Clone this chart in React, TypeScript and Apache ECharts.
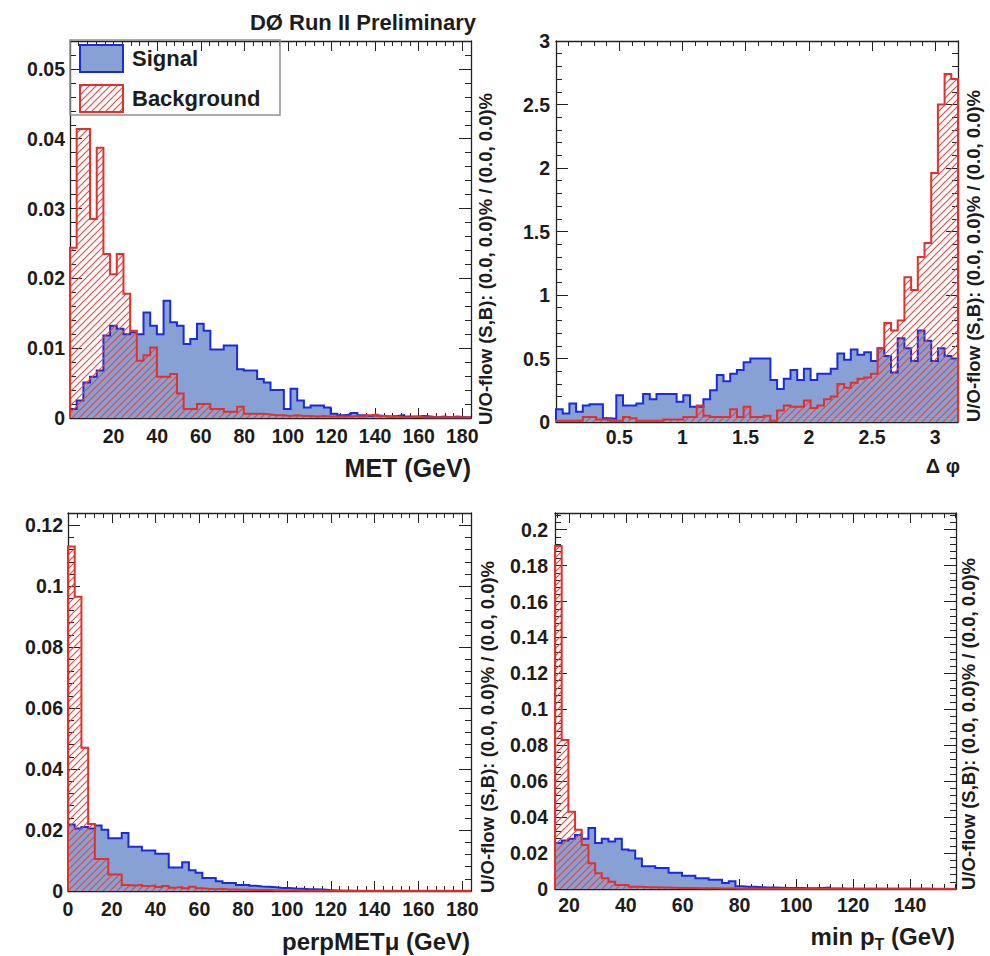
import React, { useEffect, useRef } from "react";
import * as echarts from "echarts";

// ---------- data (60 bins per histogram) ----------
const metRange = [0, 184];
const metSignal = [
  0.0013, 0.0025, 0.0051, 0.0059, 0.0068, 0.0118, 0.0132, 0.0128, 0.012, 0.0123,
  0.012, 0.0151, 0.0132, 0.012, 0.0168, 0.0137, 0.0132, 0.0106, 0.0113, 0.0135,
  0.0125, 0.0098, 0.0098, 0.0104, 0.0104, 0.007, 0.0068, 0.0068, 0.0056, 0.0051,
  0.004, 0.004, 0.0013, 0.0042, 0.0025, 0.0015, 0.0018, 0.0018, 0.0015, 0.0006,
  0.0004, 0.0005, 0.0007, 0.0004, 0.0003, 0.0004, 0.0003, 0.0002, 0.0003, 0.0004,
  0.0002, 0.0002, 0.0003, 0.0002, 0.0001, 0.0002, 0.0001, 0.0002, 0.0001, 0.0001,
];
const metBackground = [
  0.0244, 0.0414, 0.0414, 0.0285, 0.0387, 0.0235, 0.0206, 0.0235, 0.0178, 0.0125,
  0.0082, 0.009, 0.0101, 0.0059, 0.0059, 0.0063, 0.0035, 0.0013, 0.0013, 0.002,
  0.002, 0.0013, 0.0013, 0.0009, 0.0009, 0.0016, 0.0006, 0.0006, 0.0006, 0.0005,
  0.0004, 0.0004, 0.0003, 0.0004, 0.0003, 0.0003, 0.0002, 0.0003, 0.0002, 0.0002,
  0.0002, 0.0002, 0.0003, 0.0002, 0.0004, 0.0005, 0.0003, 0.0002, 0.0002, 0.0001,
  0.0001, 0.0002, 0.0001, 0.0001, 0.0001, 0.0001, 0.0001, 0.0001, 0.0001, 0.0001,
];

const dphiRange = [0, 3.18];
const dphiSignal = [
  0.1, 0.066, 0.145, 0.08, 0.13, 0.14, 0.14, 0.03, 0.026, 0.21,
  0.13, 0.13, 0.145, 0.22, 0.18, 0.22, 0.22, 0.22, 0.16, 0.21,
  0.12, 0.12, 0.18, 0.25, 0.37, 0.32, 0.38, 0.41, 0.47, 0.5,
  0.5, 0.5, 0.33, 0.26, 0.34, 0.41, 0.33, 0.42, 0.33, 0.38,
  0.38, 0.42, 0.54, 0.49, 0.57, 0.53, 0.55, 0.48, 0.58, 0.52,
  0.39, 0.66, 0.58, 0.48, 0.72, 0.64, 0.48, 0.58, 0.52, 0.5,
];
const dphiBackground = [
  0.01, 0.01, 0.01, 0.01, 0.04, 0.04, 0.02, 0.02, 0.01, 0.01,
  0.04, 0.03, 0.01, 0.01, 0.01, 0.01, 0.02, 0.02, 0.02, 0.04,
  0.04, 0.13, 0.05, 0.04, 0.04, 0.04, 0.1, 0.04, 0.12, 0.04,
  0.04, 0.05, 0.01, 0.09, 0.13, 0.12, 0.12, 0.17, 0.11, 0.13,
  0.18, 0.2, 0.3, 0.27, 0.31, 0.34, 0.35, 0.38, 0.58, 0.78,
  0.72, 0.8, 1.14, 1.04, 1.3, 1.41, 1.96, 2.5, 2.74, 2.7,
];

const perpRange = [0, 184];
const perpSignal = [
  0.0218, 0.0205, 0.021, 0.0205, 0.0215, 0.0201, 0.0173, 0.0173, 0.019, 0.0145,
  0.0145, 0.0133, 0.0133, 0.0122, 0.0122, 0.0077, 0.0077, 0.0094, 0.0068, 0.006,
  0.0043, 0.0043, 0.0032, 0.0026, 0.0026, 0.002, 0.002, 0.0017, 0.0015, 0.0014,
  0.0012, 0.001, 0.001, 0.0008, 0.0007, 0.0006, 0.0006, 0.0005, 0.0003, 0.0002,
  0.0001, 0.0001, 0, 0, 0, 0, 0, 0, 0, 0,
  0, 0, 0, 0, 0, 0, 0, 0, 0, 0,
];
const perpBackground = [
  0.113, 0.0965, 0.047, 0.022, 0.0105, 0.0105, 0.0054, 0.0054, 0.002, 0.0018,
  0.002, 0.0016, 0.0018, 0.0013, 0.0016, 0.0011, 0.0013, 0.0009, 0.0014, 0.0009,
  0.0007, 0.0006, 0.0007, 0.0005, 0.0005, 0.0004, 0.0004, 0.0003, 0.0003, 0.0003,
  0.0002, 0.0002, 0.0002, 0.0002, 0.0001, 0.0001, 0.0001, 0.0001, 0.0001, 0.0001,
  0.0001, 0.0001, 0.0001, 0.0001, 0.0001, 0.0001, 0.0001, 0.0001, 0.0001, 0.0001,
  0.0001, 0.0001, 0.0001, 0.0001, 0.0001, 0.0001, 0.0001, 0.0001, 0.0001, 0.0001,
];

const minptRange = [15.07, 156.2];
const minptSignal = [
  0.0256, 0.027, 0.028, 0.03, 0.028, 0.034, 0.0256, 0.028, 0.0265, 0.028,
  0.022, 0.0215, 0.017, 0.0126, 0.0126, 0.0117, 0.0117, 0.009, 0.009, 0.0074,
  0.0074, 0.006, 0.006, 0.0052, 0.0052, 0.0033, 0.0043, 0.0015, 0.0012, 0.0012,
  0.001, 0.0008, 0.0008, 0.0007, 0.0006, 0.0006, 0.0005, 0.0004, 0.0004, 0.0006,
  0.0008, 0.0003, 0.0003, 0.0002, 0.0002, 0.0002, 0.0001, 0.0001, 0.0001, 0.0001,
  0.0001, 0.0001, 0.0001, 0.0001, 0.0001, 0.0001, 0, 0, 0, 0,
];
const minptBackground = [
  0.191, 0.083, 0.043, 0.033, 0.0245, 0.0143, 0.0087, 0.006, 0.004, 0.0022,
  0.0022, 0.0013, 0.0013, 0.001, 0.001, 0.0009, 0.0008, 0.0007, 0.0006, 0.0005,
  0.0005, 0.0004, 0.0004, 0.0004, 0.0003, 0.0003, 0.0003, 0.0002, 0.0002, 0.0002,
  0.0002, 0.0002, 0.0002, 0.0001, 0.0001, 0.0001, 0.0001, 0.0001, 0.0001, 0.0001,
  0.0001, 0.0001, 0.0001, 0.0001, 0.0001, 0.0001, 0.0001, 0.0001, 0.0001, 0.0001,
  0.0001, 0.0001, 0.0001, 0.0001, 0.0001, 0.0001, 0.0001, 0.0001, 0.0001, 0.0001,
];

const titleText = "DØ Run II Preliminary";
const overflowText = "U/O-flow (S,B): (0.0, 0.0)% / (0.0, 0.0)%";
const legendLabels = ["Signal", "Background"];

// ---------- styles ----------
const FONT = '"Liberation Sans", Arial, Helvetica, sans-serif';
const TEXT = "#1c1c1c";
const AXIS = "#222222";
const BLUE = "#1a2cd8";
const BLUE_FILL = "#87a1d4";
const RED = "#e2302a";

function stepPoints(values: number[], range: number[]) {
  const [lo, hi] = range;
  const n = values.length;
  const w = (hi - lo) / n;
  const pts: number[][] = [[lo, 0]];
  values.forEach((v, i) => {
    pts.push([lo + i * w, v]);
    pts.push([lo + (i + 1) * w, v]);
  });
  pts.push([hi, 0]);
  return pts;
}

type AxisCfg = {
  min: number;
  max: number;
  interval?: number;
  step?: number;
  margin: number;
  showMin: boolean;
  showMax: boolean;
};

function tickOpts(len: number, minorLen: number) {
  return {
    axisLine: { show: true, onZero: false, lineStyle: { color: AXIS, width: 1.3 } },
    axisTick: { show: true, inside: true, length: len, lineStyle: { color: AXIS, width: 1 } },
    minorTick: { show: true, splitNumber: 5, length: minorLen, lineStyle: { color: AXIS, width: 1 } },
    splitLine: { show: false },
    minorSplitLine: { show: false },
  };
}

function scaleOpts(c: AxisCfg) {
  const o: any = { type: "value", min: c.min, max: c.max, scale: true };
  if (c.interval) o.interval = c.interval;
  else {
    o.minInterval = c.step;
    o.maxInterval = c.step;
  }
  return o;
}

function labelOpts(c: AxisCfg) {
  return {
    show: true,
    margin: c.margin,
    fontSize: 19.5,
    fontWeight: "bold",
    fontFamily: FONT,
    color: TEXT,
    showMinLabel: c.showMin,
    showMaxLabel: c.showMax,
  };
}

const panels = [
  {
    grid: { left: 70, top: 41, width: 401, height: 377 },
    x: { min: 0, max: 184, interval: 20, margin: 8, showMin: false, showMax: false },
    y: { min: 0, max: 0.054, interval: 0.01, margin: 5, showMin: true, showMax: false },
    range: metRange,
    sig: metSignal,
    bkg: metBackground,
  },
  {
    grid: { left: 556, top: 41, width: 402, height: 381 },
    x: { min: 0, max: 3.18, interval: 0.5, margin: 5, showMin: false, showMax: false },
    y: { min: 0, max: 3, interval: 0.5, margin: 6, showMin: true, showMax: true },
    range: dphiRange,
    sig: dphiSignal,
    bkg: dphiBackground,
  },
  {
    grid: { left: 68, top: 513, width: 403, height: 378 },
    x: { min: 0, max: 184, interval: 20, margin: 8, showMin: true, showMax: false },
    y: { min: 0, max: 0.124, interval: 0.02, margin: 5, showMin: true, showMax: false },
    range: perpRange,
    sig: perpSignal,
    bkg: perpBackground,
  },
  {
    grid: { left: 555, top: 513, width: 401, height: 376 },
    x: { min: 15.07, max: 156.2, step: 20, margin: 6, showMin: false, showMax: false },
    y: { min: 0, max: 0.2093, interval: 0.02, margin: 7, showMin: true, showMax: false },
    range: minptRange,
    sig: minptSignal,
    bkg: minptBackground,
  },
];

function makeHatch() {
  const s = 7;
  const c = document.createElement("canvas");
  c.width = s;
  c.height = s;
  const ctx = c.getContext("2d");
  if (ctx) {
    ctx.strokeStyle = "#e4463c";
    ctx.lineWidth = 1.1;
    for (const k of [-1, 0, 1]) {
      ctx.beginPath();
      ctx.moveTo(k * s - 1, s + 1);
      ctx.lineTo(k * s + s + 1, -1);
      ctx.stroke();
    }
  }
  return { image: c.toDataURL(), repeat: "repeat", imageWidth: s, imageHeight: s } as any;
}

function txt(x: number, y: number, text: string, size: number, align: string, vAlign = "middle", extra: any = {}) {
  return {
    type: "text",
    x,
    y,
    silent: true,
    ...extra,
    style: {
      text,
      fontSize: size,
      fontWeight: "bold",
      fontFamily: FONT,
      fill: TEXT,
      align,
      textAlign: align,
      verticalAlign: vAlign,
      textVerticalAlign: vAlign,
    },
  };
}

export default function App() {
  const ref = useRef<HTMLDivElement>(null);
  useEffect(() => {
    if (!ref.current) return;
    const chart = echarts.init(ref.current, undefined, { renderer: "svg" });
    const hatch = makeHatch();

    const grids: any[] = [];
    const xAxis: any[] = [];
    const yAxis: any[] = [];
    const series: any[] = [];

    panels.forEach((p, gi) => {
      grids.push({ ...p.grid, containLabel: false, show: false });
      const xs = scaleOpts(p.x as AxisCfg);
      const ys = scaleOpts(p.y as AxisCfg);
      xAxis.push({ ...xs, ...tickOpts(10, 5), gridIndex: gi, position: "bottom", axisLabel: labelOpts(p.x as AxisCfg) });
      xAxis.push({ ...xs, ...tickOpts(10, 5), gridIndex: gi, position: "top", axisLabel: { show: false } });
      yAxis.push({ ...ys, ...tickOpts(12, 6), gridIndex: gi, position: "left", axisLabel: labelOpts(p.y as AxisCfg) });
      yAxis.push({ ...ys, ...tickOpts(12, 6), gridIndex: gi, position: "right", axisLabel: { show: false } });
      series.push({
        name: legendLabels[0],
        type: "line",
        xAxisIndex: gi * 2,
        yAxisIndex: gi * 2,
        data: stepPoints(p.sig, p.range),
        symbol: "none",
        showSymbol: false,
        silent: true,
        clip: true,
        lineStyle: { color: BLUE, width: 2, join: "miter" },
        areaStyle: { color: BLUE_FILL, opacity: 1 },
        z: 2,
      });
      series.push({
        name: legendLabels[1],
        type: "line",
        xAxisIndex: gi * 2,
        yAxisIndex: gi * 2,
        data: stepPoints(p.bkg, p.range),
        symbol: "none",
        showSymbol: false,
        silent: true,
        clip: true,
        lineStyle: { color: RED, width: 2, join: "miter" },
        areaStyle: { color: hatch, opacity: 1 },
        z: 3,
      });
    });

    const graphic: any[] = [
      txt(363, 22, titleText, 22, "center"),
      // legend
      {
        type: "rect",
        silent: true,
        shape: { x: 70, y: 40, width: 210, height: 75 },
        style: { fill: "none", stroke: "#909090", lineWidth: 1.5 },
        z: 10,
      },
      {
        type: "rect",
        silent: true,
        shape: { x: 80, y: 45, width: 43, height: 27 },
        style: { fill: BLUE_FILL, stroke: BLUE, lineWidth: 2 },
        z: 10,
      },
      {
        type: "rect",
        silent: true,
        shape: { x: 80, y: 85, width: 43, height: 27 },
        style: { fill: hatch, stroke: RED, lineWidth: 2 },
        z: 10,
      },
      txt(132, 58, legendLabels[0], 22, "left"),
      txt(132, 98, legendLabels[1], 22, "left"),
      // axis titles
      txt(471, 468, "MET (GeV)", 25, "right"),
      txt(960, 466, "Δ φ", 20, "right"),
      txt(470, 941, "perpMETμ (GeV)", 24, "right"),
      {
        type: "text",
        x: 955,
        y: 936,
        silent: true,
        style: {
          text: "{a|min p}{s|T}{a| (GeV)}",
          align: "right",
          textAlign: "right",
          verticalAlign: "middle",
          textVerticalAlign: "middle",
          rich: {
            a: { fontSize: 24, fontWeight: "bold", fontFamily: FONT, fill: TEXT },
            s: { fontSize: 16, fontWeight: "bold", fontFamily: FONT, fill: TEXT, padding: [16, 0, 0, 0] },
          },
        },
      },
      // under/overflow notes (vertical)
      txt(485, 425, overflowText, 18.5, "left", "middle", { rotation: Math.PI / 2 }),
      txt(973, 422, overflowText, 18.5, "left", "middle", { rotation: Math.PI / 2 }),
      txt(487, 893, overflowText, 18.5, "left", "middle", { rotation: Math.PI / 2 }),
      txt(968, 890, overflowText, 18.5, "left", "middle", { rotation: Math.PI / 2 }),
    ];

    chart.setOption({
      animation: false,
      backgroundColor: "#ffffff",
      grid: grids,
      xAxis,
      yAxis,
      series,
      graphic,
    });
    return () => chart.dispose();
  }, []);
  return <div ref={ref} style={{ position: "absolute", left: 0, top: 0, width: 990, height: 956 }} />;
}
